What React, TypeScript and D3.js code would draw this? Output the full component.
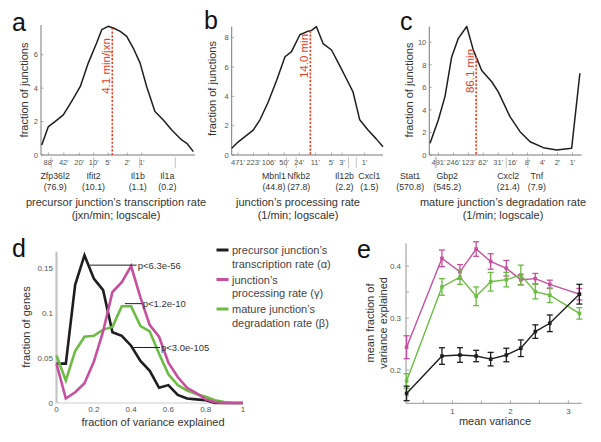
import React from "react";
import * as d3 from "d3";

const FONT = "'Liberation Sans', Arial, Helvetica, sans-serif";
const INK = "#1e1e1e";
const GREY = "#555";
const RED = "#e2421f";
const MAGENTA = "#c64f9e";
const GREEN = "#6cbc44";

// ---------- panel a : precursor junction's transcription rate ----------
const aMinutes = [121, 88, 64, 43, 29, 19, 13, 8.7, 6.8, 5.0, 3.9, 2.8, 2.05, 1.5, 1.08, 0.79, 0.53, 0.355, 0.237, 0.147, 0.115, 0.084];
const aFraction = [0.6, 1.7, 2.0, 2.4, 3.2, 4.1, 5.5, 6.7, 7.5, 7.7, 7.6, 7.4, 7.1, 6.4, 5.5, 4.1, 2.6, 2.1, 1.5, 0.9, 0.7, 0.2];
const aTickMinutes = [88, 42, 20, 10, 5, 2, 1];
const aTickLabels = ["88'", "42'", "20'", "10'", "5'", "2'", "1'"];
const aYTicks = [0, 2, 4, 6];
const aGenes = ["Zfp36l2", "Ifit2", "Il1b", "Il1a"];
const aGeneValues = [76.9, 10.1, 1.1, 0.2];
const aMedian = 4.1;

// ---------- panel b : junction's processing rate ----------
const bMinutes = [640, 464, 336, 225, 162, 109, 72, 48, 35, 23.3, 16.9, 13.2, 10.4, 7.55, 5.0, 3.36, 2.43, 1.76, 1.27, 0.85, 0.57, 0.41];
const bFraction = [0.46, 0.9, 1.25, 1.7, 2.4, 3.6, 5.1, 6.7, 7.05, 8.2, 8.4, 8.5, 8.75, 7.6, 7.16, 6.1, 5.2, 4.3, 2.4, 1.7, 1.1, 0.57];
const bTickMinutes = [471, 223, 106, 50, 24, 11, 5, 3, 1];
const bTickLabels = ["471'", "223'", "106'", "50'", "24'", "11'", "5'", "3'", "1'"];
const bYTicks = [0, 2, 4, 6, 8];
const bGenes = ["Mbnl1", "Nfkb2", "Il12b", "Cxcl1"];
const bGeneValues = [44.8, 27.8, 2.2, 1.5];
const bMedian = 14.0;

// ---------- panel c : mature junction's degradation rate ----------
const cMinutes = [726, 495, 363, 267, 196, 133, 98, 66.5, 41.9, 30.9, 18, 11.3, 7.1, 3.85, 2.07, 1.04, 0.71];
const cFraction = [1.04, 3.1, 5.2, 8.7, 10.35, 11.4, 9.3, 7.5, 6.5, 5.6, 3.4, 2.07, 1.18, 0.65, 0.44, 0.59, 7.25];
const cTickMinutes = [491, 246, 123, 62, 31, 16, 8, 4, 2, 1];
const cTickLabels = ["491'", "246'", "123'", "62'", "31'", "16'", "8'", "4'", "2'", "1'"];
const cYTicks = [0, 2, 4, 6, 8, 10];
const cGenes = ["Stat1", "Gbp2", "Cxcl2", "Tnf"];
const cGeneValues = [570.8, 545.2, 21.4, 7.9];
const cMedian = 86.1;

// ---------- panel d : fraction of variance explained ----------
const dVariance = [0, 0.05, 0.1, 0.15, 0.2, 0.25, 0.3, 0.35, 0.4, 0.45, 0.5, 0.55, 0.6, 0.65, 0.7, 0.75, 0.8, 0.85, 0.9, 0.95, 1];
const dAlpha = [0.044, 0.044, 0.132, 0.165, 0.139, 0.126, 0.079, 0.075, 0.064, 0.047, 0.036, 0.017, 0.02, 0.009, 0.005, 0.004, 0.003, 0, 0, 0, 0];
const dGamma = [0.044, 0.005, 0.012, 0.022, 0.046, 0.08, 0.124, 0.135, 0.153, 0.118, 0.087, 0.074, 0.045, 0.029, 0.017, 0.011, 0.004, 0.001, 0, 0, 0];
const dBeta = [0.053, 0.025, 0.058, 0.074, 0.075, 0.082, 0.085, 0.108, 0.108, 0.086, 0.08, 0.055, 0.032, 0.02, 0.014, 0.01, 0.007, 0.003, 0.001, 0, 0];
const dXTicks = [0, 0.2, 0.4, 0.6, 0.8, 1];
const dYTicks = [0, 0.05, 0.1, 0.15];
const dBracketFrom = [0.18, 0.367, 0.412];
const dBracketTo = [0.43, 0.457, 0.555];
const dBracketLevel = [0.154, 0.111, 0.062];
const dBracketLabels = ["p<6.3e-56", "p<1.2e-10", "p<3.0e-105"];
const legendLines = [
  ["precursor junction\u2019s", "transcription rate (\u03b1)"],
  ["junction\u2019s", "processing rate (\u03b3)"],
  ["mature junction\u2019s", "degradation rate (\u03b2)"],
];

// ---------- panel e : mean fraction of variance explained ----------
const eMeanVariance = [0.21, 0.82, 1.13, 1.41, 1.66, 1.93, 2.18, 2.43, 2.68, 3.19];
const eAlpha = [0.155, 0.227, 0.229, 0.227, 0.221, 0.229, 0.242, 0.274, 0.29, 0.346];
const eAlphaErr = [0.014, 0.016, 0.014, 0.011, 0.013, 0.013, 0.016, 0.013, 0.016, 0.019];
const eGamma = [0.244, 0.415, 0.389, 0.433, 0.409, 0.396, 0.374, 0.376, 0.365, 0.346];
const eGammaErr = [0.022, 0.016, 0.014, 0.014, 0.015, 0.015, 0.01, 0.01, 0.008, 0.011];
const eBeta = [0.179, 0.36, 0.379, 0.342, 0.37, 0.374, 0.383, 0.351, 0.344, 0.309];
const eBetaErr = [0.014, 0.016, 0.014, 0.018, 0.018, 0.014, 0.019, 0.014, 0.014, 0.011];
const eXTicks = [0.5, 1, 1.5, 2, 2.5, 3];
const eYTicks = [0.15, 0.2, 0.25, 0.3, 0.35, 0.4];

type DistCfg = {
  letter: string; letterX: number; letterY: number;
  minutes: number[]; fraction: number[];
  xDomain: [number, number]; x0: number; x1: number;
  yMax: number; yTop: number; yBottom: number;
  yTicks: number[]; xTicks: number[]; xTickLabels: string[];
  genes: string[]; geneValues: number[]; geneNudge: number[];
  median: number; medianLabel: string; medianTextY: number;
  yLabelX: number; yLabelY: number;
  title1: string; title2: string; titleX: number;
};

const distPanels: DistCfg[] = [
  {
    letter: "a", letterX: 12, letterY: 31,
    minutes: aMinutes, fraction: aFraction,
    xDomain: [125.3, 0.0776], x0: 41, x1: 195,
    yMax: 7.78, yTop: 25, yBottom: 155,
    yTicks: aYTicks, xTicks: aTickMinutes, xTickLabels: aTickLabels,
    genes: aGenes, geneValues: aGeneValues, geneNudge: [4, 0, -2, -8],
    median: aMedian, medianLabel: "4.1 min/jxn", medianTextY: 66,
    yLabelX: 28, yLabelY: 90,
    title1: "precursor junction\u2019s transcription rate", title2: "(jxn/min; logscale)", titleX: 116,
  },
  {
    letter: "b", letterX: 204, letterY: 28.5,
    minutes: bMinutes, fraction: bFraction,
    xDomain: [640, 0.41], x0: 231.7, x1: 383,
    yMax: 8.75, yTop: 26.7, yBottom: 155,
    yTicks: bYTicks, xTicks: bTickMinutes, xTickLabels: bTickLabels,
    genes: bGenes, geneValues: bGeneValues, geneNudge: [-12.5, 2.5, -4, 13],
    median: bMedian, medianLabel: "14.0 min", medianTextY: 56,
    yLabelX: 216, yLabelY: 88.5,
    title1: "junction\u2019s processing rate", title2: "(1/min; logscale)", titleX: 298,
  },
  {
    letter: "c", letterX: 400, letterY: 29.5,
    minutes: cMinutes, fraction: cFraction,
    xDomain: [751, 0.653], x0: 429.3, x1: 581.7,
    yMax: 11.38, yTop: 26.7, yBottom: 155,
    yTicks: cYTicks, xTicks: cTickMinutes, xTickLabels: cTickLabels,
    genes: cGenes, geneValues: cGeneValues, geneNudge: [-25, 11, 2, 9],
    median: cMedian, medianLabel: "86.1 min", medianTextY: 71,
    yLabelX: 413, yLabelY: 90,
    title1: "mature junction\u2019s degradation rate", title2: "(1/min; logscale)", titleX: 503,
  },
];

function DistPanel({ c }: { c: DistCfg }) {
  const x = d3.scaleLog().domain(c.xDomain).range([c.x0, c.x1]);
  const y = d3.scaleLinear().domain([0, c.yMax]).range([c.yBottom, c.yTop]);
  const pts = c.minutes.map((m, i) => [m, c.fraction[i]] as [number, number]);
  const path = d3.line<[number, number]>().x(d => x(d[0])).y(d => y(d[1]))(pts) || "";
  let medVal = 0;
  for (let i = 0; i < pts.length - 1; i++) {
    const [m0, f0] = pts[i];
    const [m1, f1] = pts[i + 1];
    if (m0 >= c.median && c.median >= m1) {
      const t = (Math.log(m0) - Math.log(c.median)) / (Math.log(m0) - Math.log(m1));
      medVal = f0 + t * (f1 - f0);
    }
  }
  const mx = x(c.median);
  return (
    <g>
      <text x={c.letterX} y={c.letterY} fontSize={25} fill="#111">{c.letter}</text>
      <line x1={c.x0} x2={c.x0} y1={c.yTop} y2={c.yBottom} stroke="#555" strokeWidth={0.8} />
      <line x1={c.x0} x2={c.x1} y1={c.yBottom} y2={c.yBottom} stroke="#555" strokeWidth={0.8} />
      {c.yTicks.map(t => (
        <g key={"y" + t}>
          <line x1={c.x0} x2={c.x0 + 2.5} y1={y(t)} y2={y(t)} stroke="#777" strokeWidth={0.6} />
          <text x={c.x0 - 3} y={y(t) + 2.7} fontSize={7.5} textAnchor="end" fill={GREY}>{t}</text>
        </g>
      ))}
      {c.xTicks.map((t, i) => (
        <g key={"x" + t}>
          <line x1={x(t)} x2={x(t)} y1={c.yBottom} y2={c.yBottom - 2.5} stroke="#777" strokeWidth={0.6} />
          <text x={x(t)} y={c.yBottom + 10} fontSize={7.5} textAnchor="middle" fill={GREY}>{c.xTickLabels[i]}</text>
        </g>
      ))}
      {c.genes.map((g, i) => {
        const gx = x(c.geneValues[i]);
        const lx = gx + c.geneNudge[i];
        return (
          <g key={g}>
            <line x1={gx} x2={gx} y1={c.yBottom + 2} y2={c.yBottom + 13} stroke="#aaa" strokeWidth={0.7} />
            <text x={lx} y={179} fontSize={8.8} textAnchor="middle" fill="#333">{g}</text>
            <text x={lx} y={189.5} fontSize={8.8} textAnchor="middle" fill="#333">({c.geneValues[i].toFixed(1)})</text>
          </g>
        );
      })}
      <path d={path} fill="none" stroke={INK} strokeWidth={1.5} strokeLinejoin="round" />
      <line x1={mx} x2={mx} y1={y(medVal)} y2={c.yBottom} stroke={RED} strokeWidth={1.6} strokeDasharray="2.2 1.6" />
      <text transform={`translate(${mx - 2.5},${c.medianTextY}) rotate(-90)`} textAnchor="middle" fontSize={11.5} fill={RED}>{c.medianLabel}</text>
      <text transform={`translate(${c.yLabelX},${c.yLabelY}) rotate(-90)`} textAnchor="middle" fontSize={11} fill="#333">fraction of junctions</text>
      <text x={c.titleX} y={206} textAnchor="middle" fontSize={11} fill="#333">{c.title1}</text>
      <text x={c.titleX} y={219} textAnchor="middle" fontSize={11} fill="#333">{c.title2}</text>
    </g>
  );
}

function PanelD() {
  const x = d3.scaleLinear().domain([0, 1]).range([56.5, 243]);
  const y = d3.scaleLinear().domain([0, 0.169]).range([403, 251.7]);
  const mk = (vals: number[]) =>
    d3.line<number>().x((_, i) => x(dVariance[i])).y(v => y(v))(vals) || "";
  const series = [
    { vals: dAlpha, color: INK },
    { vals: dBeta, color: GREEN },
    { vals: dGamma, color: MAGENTA },
  ];
  const legendColors = [INK, MAGENTA, GREEN];
  const legendY = [250, 279.5, 309];
  return (
    <g>
      <text x={12} y={256.5} fontSize={25} fill="#111">d</text>
      <line x1={x(0)} x2={x(1)} y1={y(0)} y2={y(0)} stroke="#ccc" strokeWidth={1} />
      <line x1={x(0)} x2={x(0)} y1={251.7} y2={403} stroke="#c4c4c4" strokeWidth={2.2} />
      {dYTicks.map(t => (
        <text key={t} x={53} y={y(t) + 2.7} fontSize={8} textAnchor="end" fill={GREY}>{t}</text>
      ))}
      {dXTicks.map(t => (
        <text key={t} x={x(t)} y={411.5} fontSize={8} textAnchor="middle" fill={GREY}>{t}</text>
      ))}
      {series.map((s, i) => (
        <path key={i} d={mk(s.vals)} fill="none" stroke={s.color} strokeWidth={2.6} strokeLinejoin="miter" />
      ))}
      {dBracketLabels.map((lab, i) => (
        <g key={lab}>
          <line x1={x(dBracketFrom[i])} x2={x(dBracketTo[i])} y1={y(dBracketLevel[i])} y2={y(dBracketLevel[i])} stroke={INK} strokeWidth={1} />
          <text x={x(dBracketTo[i]) + 1} y={y(dBracketLevel[i]) + 3.4} fontSize={9.5} fill="#333">{lab}</text>
        </g>
      ))}
      <text transform={`translate(30,327) rotate(-90)`} textAnchor="middle" fontSize={11} fill="#333">fraction of genes</text>
      <text x={153} y={426} textAnchor="middle" fontSize={11} fill="#333">fraction of variance explained</text>
      {legendLines.map((lines, i) => (
        <g key={i}>
          <line x1={216.5} x2={228.5} y1={legendY[i]} y2={legendY[i]} stroke={legendColors[i]} strokeWidth={3} />
          <text x={232} y={legendY[i] + 4} fontSize={11} fill="#444">{lines[0]}</text>
          <text x={232} y={legendY[i] + 17.5} fontSize={11} fill="#444">{lines[1]}</text>
        </g>
      ))}
    </g>
  );
}

function PanelE() {
  const x = d3.scaleLinear().domain([0.2, 3.23]).range([406, 581.7]);
  const y = d3.scaleLinear().domain([0.136, 0.444]).range([403.3, 243.3]);
  const series = [
    { vals: eGamma, err: eGammaErr, color: MAGENTA },
    { vals: eBeta, err: eBetaErr, color: GREEN },
    { vals: eAlpha, err: eAlphaErr, color: INK },
  ];
  const ln = d3.line<number>().x((_, i) => x(eMeanVariance[i])).y(v => y(v));
  return (
    <g>
      <text x={357} y={258} fontSize={25} fill="#111">e</text>
      <line x1={406} x2={406} y1={243.3} y2={403.3} stroke="#777" strokeWidth={0.8} />
      <line x1={406} x2={581.7} y1={403.3} y2={403.3} stroke="#777" strokeWidth={0.8} />
      {eYTicks.map(t => (
        <g key={t}>
          <line x1={406} x2={409} y1={y(t)} y2={y(t)} stroke="#777" strokeWidth={0.6} />
          {Math.abs(t * 10 - Math.round(t * 10)) < 1e-6 && (
            <text x={401} y={y(t) + 2.7} fontSize={8} textAnchor="end" fill={GREY}>{t}</text>
          )}
        </g>
      ))}
      {eXTicks.map(t => (
        <g key={t}>
          <line x1={x(t)} x2={x(t)} y1={403.3} y2={400.3} stroke="#777" strokeWidth={0.6} />
          {Number.isInteger(t) && (
            <text x={x(t)} y={414} fontSize={8} textAnchor="middle" fill={GREY}>{t}</text>
          )}
        </g>
      ))}
      {series.map((s, si) => (
        <g key={si}>
          <path d={ln(s.vals) || ""} fill="none" stroke={s.color} strokeWidth={1.4} />
          {s.vals.map((v, i) => {
            const cx = x(eMeanVariance[i]);
            const top = y(v + s.err[i]);
            const bot = Math.min(y(v - s.err[i]), 403.3);
            return (
              <g key={i}>
                <line x1={cx} x2={cx} y1={top} y2={bot} stroke={s.color} strokeWidth={1.3} />
                <line x1={cx - 3} x2={cx + 3} y1={top} y2={top} stroke={s.color} strokeWidth={1.3} />
                {y(v - s.err[i]) <= 403.3 && (
                  <line x1={cx - 3} x2={cx + 3} y1={bot} y2={bot} stroke={s.color} strokeWidth={1.3} />
                )}
                <rect x={cx - 1.8} y={y(v) - 1.8} width={3.6} height={3.6} fill={s.color} />
              </g>
            );
          })}
        </g>
      ))}
      <text transform={`translate(374,323) rotate(-90)`} textAnchor="middle" fontSize={11} fill="#333">mean fraction of</text>
      <text transform={`translate(386.5,323) rotate(-90)`} textAnchor="middle" fontSize={11} fill="#333">variance explained</text>
      <text x={495} y={425} textAnchor="middle" fontSize={11} fill="#333">mean variance</text>
    </g>
  );
}

export default function App() {
  return (
    <svg width={601} height={442} style={{ position: "absolute", left: 0, top: 0, background: "#fff" }} fontFamily={FONT}>
      <rect width={601} height={442} fill="#fff" />
      {distPanels.map(c => <DistPanel key={c.letter} c={c} />)}
      <PanelD />
      <PanelE />
    </svg>
  );
}
